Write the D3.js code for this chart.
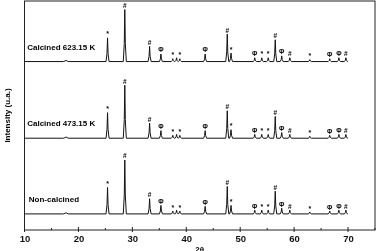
<!DOCTYPE html>
<html>
<head>
<meta charset="utf-8">
<script src="https://cdn.jsdelivr.net/npm/d3@7"></script>
<style>
  body { margin: 0; background: #fff; }
  svg { will-change: transform; }
  text { font-family: "Liberation Sans", Arial, sans-serif; }
  .mark { font-family: "Liberation Sans", Arial, sans-serif; font-weight: bold; }
</style>
</head>
<body>
<svg id="canvas"></svg>
<script>
// Sample names (bottom to top) and their vertical offsets (a.u.)
const samples = ["Non-calcined", "Calcined 473.15 K", "Calcined 623.15 K"];
const offsets = [0, 80, 161];

// Peak positions (2θ) and phase markers
const peakPos = [17.7, 25.4, 28.6, 33.2, 35.3, 37.5, 38.2, 38.8, 43.5, 47.6, 48.3, 52.7, 54.0, 55.2, 56.5, 57.7, 59.2, 62.9, 66.6, 68.3, 69.6];
const peakMark = ["", "*", "#", "#", "Φ", "*", "", "*", "Φ", "#", "*", "Φ", "*", "*", "#", "Φ", "#", "*", "Φ", "Φ", "#"];

// Peak heights above baseline for each sample (a.u.)
const heightsNon = [1.5, 28, 57, 16, 9, 3, 4, 3, 8, 29, 9, 4, 4, 4, 24, 6, 4, 2, 3, 4, 4];
const heights473 = [1.5, 27, 56, 16, 8, 3, 4, 3, 8, 29, 9, 4, 4, 4, 23, 6, 4, 2, 3, 4, 4];
const heights623 = [1.5, 25, 55, 16, 8, 3, 4, 3, 8, 29, 9, 4, 4, 4, 23, 6, 4, 2, 3, 4, 4];
const allHeights = [heightsNon, heights473, heights623];

// Axis ticks
const xTicks = [10, 20, 30, 40, 50, 60, 70];
const xMinor = [15, 25, 35, 45, 55, 65, 75];

const width = 379, height = 251;
const margin = { left: 24.5, right: 4, top: 1, bottom: 21 };
const svg = d3.select("#canvas").attr("width", width).attr("height", height);

const x = d3.scaleLinear().domain([10, 75]).range([margin.left, width - margin.right]);
const y = d3.scaleLinear().domain([-17, 225]).range([height - margin.bottom, margin.top]);

const halfWidth = 0.28; // peak half-width at base, in degrees

// build trace points: baseline + narrow spikes at each peak
function tracePoints(hs, off) {
  const pts = [[10.1, off]];
  peakPos.forEach((p, i) => {
    const w = i === 0 ? 0.5 : halfWidth;
    pts.push([p - w, off], [p - w * 0.35, off + hs[i] * 0.35], [p, off + hs[i]], [p + w * 0.35, off + hs[i] * 0.35], [p + w, off]);
  });
  pts.push([70, off]);
  return pts;
}

const line = d3.line()
  .x(d => x(d[0]))
  .y(d => y(d[1]));

const traces = svg.append("g");
samples.forEach((name, s) => {
  traces.append("path")
    .attr("d", line(tracePoints(allHeights[s], offsets[s])))
    .style("fill", "none")
    .style("stroke", "#111")
    .style("stroke-width", 1)
    .style("stroke-linejoin", "round");

  // phase markers above the peaks
  traces.append("g")
    .style("opacity", 0.99)
    .selectAll("text")
    .data(peakPos.map((p, i) => ({ p, m: peakMark[i], h: allHeights[s][i] })).filter(d => d.m))
    .enter().append("text")
    .attr("class", "mark")
    .attr("x", d => x(d.p))
    .attr("y", d => y(offsets[s] + d.h) - 1.5)
    .attr("text-anchor", "middle")
    .style("font-size", d => d.m === "*" ? "7px" : "6.5px")
    .style("fill", "#000")
    .text(d => d.m);

  // sample name
  traces.append("text")
    .attr("x", name === "Non-calcined" ? x(10.8) : x(10.5))
    .attr("y", y(offsets[s]) - 12)
    .style("font-size", "8px")
    .style("font-weight", "bold")
    .text(name);
});

// frame
svg.append("rect")
  .attr("x", margin.left)
  .attr("y", margin.top)
  .attr("width", width - margin.right - margin.left)
  .attr("height", height - margin.bottom - margin.top)
  .style("fill", "none")
  .style("stroke", "#222")
  .style("stroke-width", 1);

// bottom axis
const xAxis = svg.append("g")
  .attr("transform", `translate(0,${height - margin.bottom})`);
xAxis.call(d3.axisBottom(x).tickValues(xTicks).tickSize(0).tickPadding(5).tickFormat(d3.format("d")))
  .call(g => g.select(".domain").remove());
xAxis.selectAll(".tick text")
  .style("font-size", "9.5px")
  .style("font-weight", "bold")
  .style("fill", "#111");

xAxis.selectAll(".major")
  .data(xTicks)
  .enter().append("line")
  .attr("x1", d => x(d)).attr("x2", d => x(d))
  .attr("y1", -3).attr("y2", 2)
  .style("stroke", "#222");
xAxis.selectAll(".minor")
  .data(xMinor)
  .enter().append("line")
  .attr("x1", d => x(d)).attr("x2", d => x(d))
  .attr("y1", -2).attr("y2", 0)
  .style("stroke", "#222");

// axis titles
svg.append("text")
  .attr("transform", `translate(10,${(margin.top + height - margin.bottom) / 2}) rotate(-90)`)
  .attr("text-anchor", "middle")
  .style("font-size", "8px")
  .style("font-weight", "bold")
  .text("Intensity (u.a.)");

svg.append("text")
  .attr("x", (margin.left + width - margin.right) / 2)
  .attr("y", height + 1)
  .attr("text-anchor", "middle")
  .style("font-size", "8px")
  .style("font-weight", "bold")
  .text("2θ");
</script>
</body>
</html>
